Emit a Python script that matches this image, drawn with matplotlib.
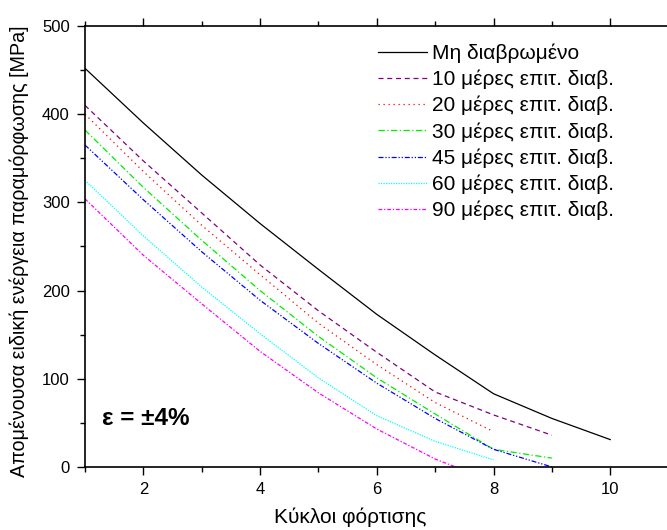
import matplotlib
matplotlib.use('Agg')
import matplotlib.pyplot as plt
from matplotlib.ticker import MultipleLocator

plt.rcParams['font.family'] = ['Liberation Sans', 'DejaVu Sans']

# data
cycles = [1, 2, 3, 4, 5, 6, 7, 8, 9, 10]
uncorroded = [452, 390, 331, 276, 224, 173, 127, 83, 55, 31]
days10 = [410, 347, 288, 229, 177, 130, 85, 59, 36]
days20 = [400, 335, 274, 218, 163, 116, 73, 40]
days30 = [382, 317, 257, 200, 148, 101, 60, 20, 10]
days45 = [365, 303, 244, 189, 140, 95, 55, 20, 0]
days60 = [325, 262, 204, 151, 101, 58, 29, 8]
days90 = [304, 240, 185, 131, 84, 43, 9, -17]

labels = ['Μη διαβρωμένο', '10 μέρες επιτ. διαβ.', '20 μέρες επιτ. διαβ.',
          '30 μέρες επιτ. διαβ.', '45 μέρες επιτ. διαβ.', '60 μέρες επιτ. διαβ.',
          '90 μέρες επιτ. διαβ.']

fig = plt.figure(figsize=(6.67, 5.30), dpi=100)
ax = fig.add_axes([0.1274, 0.119, 0.875, 0.832])

lw = 0.9
ax.plot(cycles, uncorroded, color='black', lw=lw, label=labels[0])
ax.plot(cycles[:9], days10, color='#800080', lw=lw, dashes=(4, 3), label=labels[1])
ax.plot(cycles[:8], days20, color='#FF0000', lw=lw, dashes=(1, 3), label=labels[2])
ax.plot(cycles[:9], days30, color='#00EE00', lw=lw, dashes=(5, 2, 1, 2), label=labels[3])
ax.plot(cycles[:9], days45, color='#0000FF', lw=lw, dashes=(4, 1.5, 1, 1.5, 1, 1.5), label=labels[4])
ax.plot(cycles[:8], days60, color='#00FFFF', lw=lw, dashes=(1, 1), label=labels[5])
ax.plot(cycles[:8], days90, color='#FF00FF', lw=lw, dashes=(3, 1.5, 1, 1.5), label=labels[6])

ax.set_xlim(1, 11)
ax.set_ylim(0, 500)
ax.xaxis.set_major_locator(MultipleLocator(2))
ax.xaxis.set_minor_locator(MultipleLocator(1))
ax.yaxis.set_major_locator(MultipleLocator(100))
ax.yaxis.set_minor_locator(MultipleLocator(50))
ax.tick_params(which='both', direction='out', top=True, right=False, labelsize=12, width=1)
ax.tick_params(which='major', length=6, pad=5)
ax.tick_params(which='minor', length=3.5)
for s in ax.spines.values():
    s.set_linewidth(1.2)

ax.set_xlabel('Κύκλοι φόρτισης', fontsize=15)
ax.set_ylabel('Απομένουσα ειδική ενέργεια παραμόρφωσης [MPa]', fontsize=14.2)
ax.xaxis.set_label_coords(0.454, -0.093)
ax.yaxis.set_label_coords(-0.096, 0.49)

ax.text(1.3, 55, 'ε = ±4%', fontsize=17.5, fontweight='bold', va='center')

ax.legend(loc='upper left', bbox_to_anchor=(0.5545, 0.934), bbox_transform=fig.transFigure,
          frameon=False, fontsize=15, handlelength=2.35, handletextpad=0.25,
          labelspacing=0.325, borderaxespad=0)

fig.savefig('out.png', dpi=100)
